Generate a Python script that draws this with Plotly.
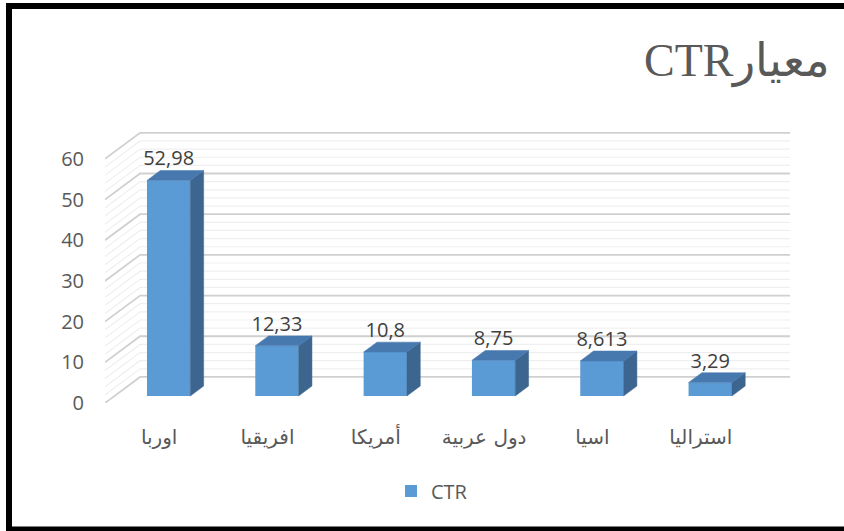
import plotly.graph_objects as go
import numpy as np

# ---- data ----
categories = ["اوربا", "افريقيا", "أمريكا", "دول عربية", "اسيا", "استراليا"]
values = [52.98, 12.33, 10.8, 8.75, 8.613, 3.29]
value_labels = ["52,98", "12,33", "10,8", "8,75", "8,613", "3,29"]
series_name = "CTR"
y_ticks = [0, 10, 20, 30, 40, 50, 60]
title_text = "CTR" + "معيار"

# ---- 3D oblique projection settings (style) ----
DX = 0.324      # depth shift in category units (front -> back wall)
DY = 6.4        # depth shift in value units
Z0, Z1 = 0.27, 0.65   # bar front / back depth
BW = 0.4        # bar width
YMAX = 60
FRONT = "#5B9BD5"
TOP = "#4779AE"
SIDE = "#3C6590"

def P(x, v, z):
    return x + z * DX, v + z * DY

n = len(categories)
xl, xr = -0.5, n - 0.5

fig = go.Figure()

# walls: back wall grid + left wall grid (as shapes below traces)
shapes = []
for v in np.arange(0, YMAX + 0.001, 2):
    major = abs(v % 10) < 1e-9
    col = "#D0D0D0" if major else "#EFEFEF"
    wid = 1.8 if major else 1.2
    a = P(xl, v, 0); b = P(xl, v, 1); c = P(xr, v, 1)
    shapes.append(dict(type="path", xref="x", yref="y", layer="below",
                       path=f"M{a[0]},{a[1]} L{b[0]},{b[1]} L{c[0]},{c[1]}",
                       line=dict(color=col, width=wid)))

# front faces via bars
fig.add_trace(go.Bar(x=[i + Z0 * DX for i in range(n)], y=values, base=[Z0 * DY] * n,
                     width=BW, marker=dict(color=FRONT, line=dict(width=0)),
                     name=series_name, hoverinfo="skip"))

# side and top faces
sx, sy, tx, ty = [], [], [], []
for i, v in enumerate(values):
    x0, x1 = i - BW / 2, i + BW / 2
    pts = [P(x1, 0, Z0), P(x1, 0, Z1), P(x1, v, Z1), P(x1, v, Z0)]
    sx += [p[0] for p in pts] + [pts[0][0], None]
    sy += [p[1] for p in pts] + [pts[0][1], None]
    pts = [P(x0, v, Z0), P(x1, v, Z0), P(x1, v, Z1), P(x0, v, Z1)]
    tx += [p[0] for p in pts] + [pts[0][0], None]
    ty += [p[1] for p in pts] + [pts[0][1], None]
fig.add_trace(go.Scatter(x=sx, y=sy, fill="toself", fillcolor=SIDE, mode="lines",
                         line=dict(color=SIDE, width=0.5), hoverinfo="skip", showlegend=False))
fig.add_trace(go.Scatter(x=tx, y=ty, fill="toself", fillcolor=TOP, mode="lines",
                         line=dict(color=TOP, width=0.5), hoverinfo="skip", showlegend=False))

# data labels
fig.add_trace(go.Scatter(x=[i + Z0 * DX for i in range(n)],
                         y=[v + Z1 * DY for v in values],
                         mode="text", text=value_labels, textposition="top center",
                         textfont=dict(family="Open Sans", size=20, color="#404040"),
                         hoverinfo="skip", showlegend=False))

L, R, T, B = 105, 790, 132, 403
W, H = 844, 531
def px(x): return (x - L) / (R - L)
def py(y): return (B - y) / (B - T)

shapes += [
    dict(type="line", xref="paper", yref="paper", x0=px(9), x1=px(850), y0=py(6), y1=py(6),
         line=dict(color="black", width=6)),
    dict(type="line", xref="paper", yref="paper", x0=px(9), x1=px(9), y0=py(3), y1=py(529),
         line=dict(color="black", width=6)),
    dict(type="line", xref="paper", yref="paper", x0=px(6), x1=px(850), y0=py(529), y1=py(529),
         line=dict(color="black", width=5)),
]

fig.update_layout(
    width=W, height=H,
    margin=dict(l=L, r=W - R, t=T, b=H - B),
    paper_bgcolor="white", plot_bgcolor="white",
    barmode="overlay",
    showlegend=True,
    legend=dict(orientation="h", x=px(432), y=py(491), xanchor="center", yanchor="middle",
                itemwidth=30,
                font=dict(family="Open Sans", size=20, color="#595959")),
    xaxis=dict(range=[xl, xr + DX], tickvals=list(range(n)), ticktext=categories,
               showgrid=False, zeroline=False, showline=False, ticks="",
               ticklabelstandoff=20,
               tickfont=dict(family="DejaVu Sans", size=20, color="#595959")),
    yaxis=dict(range=[0, 66.6], tickvals=y_ticks, ticktext=[str(t) for t in y_ticks],
               showgrid=False, zeroline=False, showline=False, ticks="",
               ticklabelstandoff=20,
               tickfont=dict(family="Open Sans", size=20, color="#595959")),
    annotations=[dict(text=title_text, xref="paper", yref="paper", x=px(832), y=py(62),
                      xanchor="right", yanchor="middle", showarrow=False,
                      font=dict(family="Liberation Serif", size=46, color="#595959"))],
    shapes=shapes,
)

fig.write_html("out.html")
